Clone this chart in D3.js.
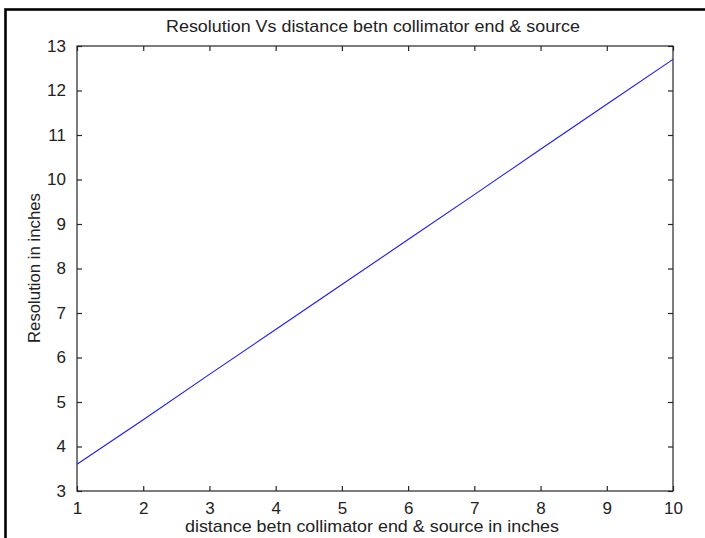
<!DOCTYPE html>
<html>
<head>
<meta charset="utf-8">
<script src="https://cdn.jsdelivr.net/npm/d3@7"></script>
<style>
  html, body { margin: 0; padding: 0; background: #fff; }
  svg { display: block; }
  text { font-family: "Liberation Sans", Arial, sans-serif; fill: #222; }
</style>
</head>
<body>
<svg id="chart" width="705" height="538"></svg>
<script>
// Data
const distance = [1, 2, 3, 4, 5, 6, 7, 8, 9, 10];
const resolution = [3.6, 4.6, 5.62, 6.63, 7.64, 8.65, 9.66, 10.68, 11.69, 12.7];
const xTicks = [1, 2, 3, 4, 5, 6, 7, 8, 9, 10];
const yTicks = [3, 4, 5, 6, 7, 8, 9, 10, 11, 12, 13];
const titleText = "Resolution Vs distance betn collimator end & source";
const xLabelText = "distance betn collimator end & source in inches";
const yLabelText = "Resolution in inches";

const svg = d3.select("#chart");
const W = 705, H = 538;
const m = { left: 77, right: 705 - 673, top: 46, bottom: 538 - 491 };

svg.append("rect").attr("width", W).attr("height", H).attr("fill", "#fff");
// outer frame (top and left edges visible)
svg.append("rect")
  .attr("x", 5.5).attr("y", 9.5).attr("width", 900).attr("height", 700)
  .attr("fill", "none").attr("stroke", "#000").attr("stroke-width", 2.6);

const x = d3.scaleLinear().domain([1, 10]).range([m.left, W - m.right]);
const y = d3.scaleLinear().domain([3, 13]).range([H - m.bottom, m.top]);

const axColor = "#262626";
const fs = 17;

function styleAxis(g) {
  g.select(".domain").remove();
  g.selectAll(".tick line").attr("stroke", axColor).attr("stroke-width", 1.2);
  g.selectAll(".tick text").attr("font-size", fs).attr("fill", "#222")
    .attr("font-family", '"Liberation Sans", Arial, sans-serif');
}

// bottom axis
svg.append("g").attr("transform", `translate(0,${y(3)})`)
  .call(d3.axisBottom(x).tickValues(xTicks).tickFormat(d3.format("d")).tickSizeInner(-5).tickSizeOuter(0).tickPadding(11))
  .call(styleAxis)
  .call(g => g.selectAll(".tick text").attr("dy", "0.71em"));
// top axis (ticks only)
svg.append("g").attr("transform", `translate(0,${y(13)})`)
  .call(d3.axisTop(x).tickValues(xTicks).tickFormat("").tickSizeInner(-5).tickSizeOuter(0))
  .call(styleAxis);
// left axis
svg.append("g").attr("transform", `translate(${x(1)},0)`)
  .call(d3.axisLeft(y).tickValues(yTicks).tickFormat(d3.format("d")).tickSizeInner(-5).tickSizeOuter(0).tickPadding(11))
  .call(styleAxis);
// right axis (ticks only)
svg.append("g").attr("transform", `translate(${x(10)},0)`)
  .call(d3.axisRight(y).tickValues(yTicks).tickFormat("").tickSizeInner(-5).tickSizeOuter(0))
  .call(styleAxis);

// box
svg.append("rect")
  .attr("x", x(1)).attr("y", y(13))
  .attr("width", x(10) - x(1)).attr("height", y(3) - y(13))
  .attr("fill", "none").attr("stroke", axColor).attr("stroke-width", 1.2);

// data line
const pts = distance.map((d, i) => [d, resolution[i]]);
svg.append("path")
  .datum(pts)
  .attr("fill", "none")
  .attr("stroke", "#1a1aff")
  .attr("stroke-width", 1.1)
  .attr("d", d3.line().x(d => x(d[0])).y(d => y(d[1])));

// title
svg.append("text")
  .attr("x", 373).attr("y", 32)
  .attr("text-anchor", "middle").attr("font-size", fs)
  .attr("textLength", 414).attr("lengthAdjust", "spacingAndGlyphs")
  .text(titleText);

// x label
svg.append("text")
  .attr("x", 372).attr("y", 532)
  .attr("text-anchor", "middle").attr("font-size", fs)
  .attr("textLength", 374).attr("lengthAdjust", "spacingAndGlyphs")
  .text(xLabelText);

// y label
svg.append("text")
  .attr("transform", `translate(40,268) rotate(-90)`)
  .attr("text-anchor", "middle").attr("font-size", fs)
  .attr("textLength", 150).attr("lengthAdjust", "spacingAndGlyphs")
  .text(yLabelText);
</script>
</body>
</html>
